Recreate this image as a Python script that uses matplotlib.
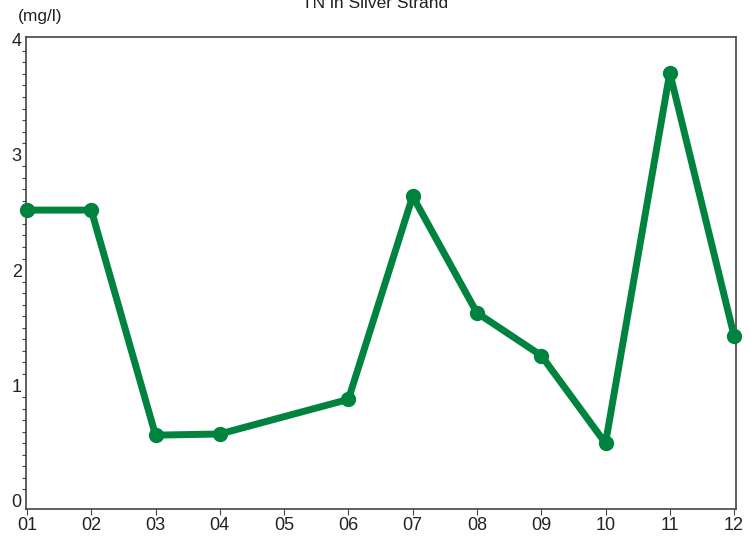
import matplotlib
matplotlib.use("Agg")
import matplotlib.pyplot as plt
from matplotlib.ticker import MultipleLocator

plt.rcParams['font.family'] = ['Liberation Sans', 'DejaVu Sans']

months = [1, 2, 3, 4, 6, 7, 8, 9, 10, 11, 12]
values = [2.52, 2.52, 0.57, 0.58, 0.88, 2.64, 1.63, 1.26, 0.50, 3.71, 1.43]
tick_pos = list(range(1, 13))
tick_labels = ["01", "02", "03", "04", "05", "06", "07", "08", "09", "10", "11", "12"]

fig = plt.figure(figsize=(7.54, 5.42), dpi=100)
ax = fig.add_axes([26/754, 1-509/542, (736-26)/754, (509-37)/542])

ax.plot(months, values, color='#00833e', lw=5, marker='o', ms=10, zorder=3, clip_on=False)

ax.set_xlim(0.985, 12.03)
ax.set_ylim(-0.07, 4.02)
ax.set_xticks(tick_pos)
ax.set_xticklabels(tick_labels, fontsize=13, color='#222222')
ax.set_yticks([0, 1, 2, 3, 4])
ax.set_yticklabels(["0", "1", "2", "3", "4"], fontsize=13, color='#222222')
ax.yaxis.set_minor_locator(MultipleLocator(0.1))
ax.tick_params(axis='y', which='major', length=0, pad=3)
ax.tick_params(axis='y', which='minor', length=3, width=0.8, color='#444444')
ax.tick_params(axis='x', which='major', length=4, width=0.8, color='#444444', pad=2)
for s in ax.spines.values():
    s.set_color('#444444')
    s.set_linewidth(1.2)

fig.text(18/754, 1-16/542, "(mg/l)", fontsize=12.5, color='#222222', va='center', ha='left')
fig.text(375/754, 1-8/542, "TN in Silver Strand", fontsize=12.5, color='#222222', va='baseline', ha='center')

fig.savefig("out.png", dpi=100)
